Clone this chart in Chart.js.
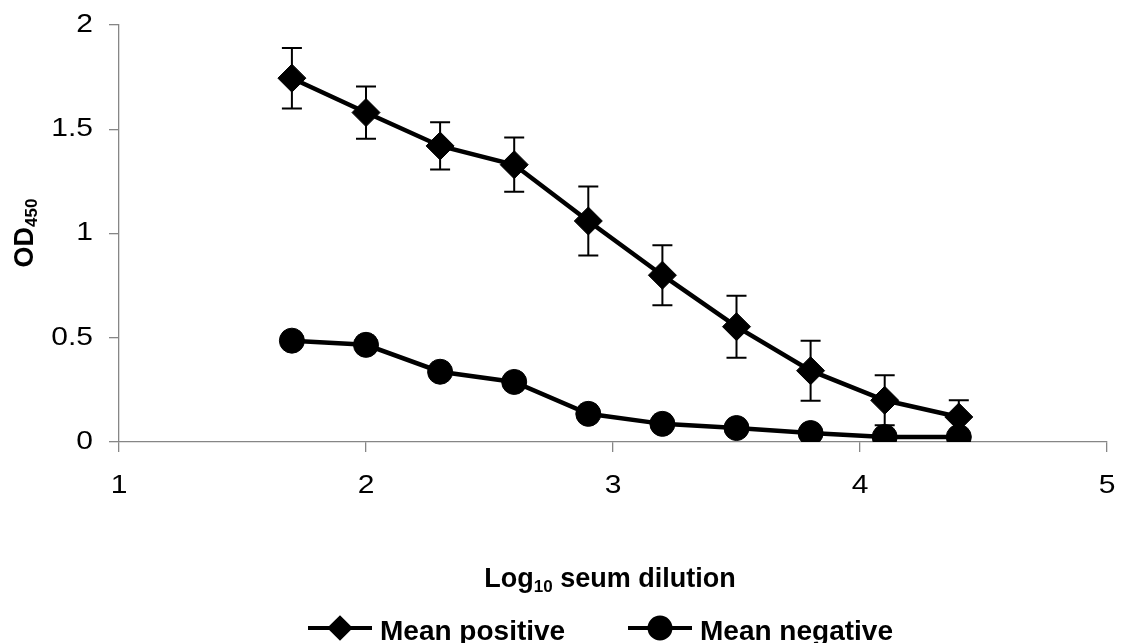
<!DOCTYPE html>
<html>
<head>
<meta charset="utf-8">
<title>OD450 vs serum dilution</title>
<script src="https://cdn.jsdelivr.net/npm/chart.js@4.4.1/dist/chart.umd.min.js"></script>
<style>
  html, body { margin: 0; padding: 0; background: #fff; }
  #wrap { width: 1122px; height: 643px; position: relative; }
</style>
</head>
<body>
<div id="wrap"><canvas id="odChart"></canvas></div>
<script>
// log10 serum dilution and mean OD450 (with SD) for both serum groups
const dilution = [1.7, 2.0, 2.3, 2.6, 2.9, 3.2, 3.5, 3.8, 4.1, 4.4];
const meanPositive = [1.745, 1.58, 1.42, 1.33, 1.06, 0.80, 0.553, 0.342, 0.20, 0.12];
const sdPositive = [0.145, 0.125, 0.113, 0.13, 0.166, 0.144, 0.149, 0.144, 0.12, 0.08];
const meanNegative = [0.486, 0.466, 0.337, 0.288, 0.135, 0.087, 0.067, 0.043, 0.024, 0.024];
const sdNegative = [0.02, 0.034, 0.02, 0.02, 0.015, 0.015, 0.015, 0.01, 0.01, 0.01];

const xTicks = [1, 2, 3, 4, 5];
const xTickLabels = ['1', '2', '3', '4', '5'];
const yTicks = [0, 0.5, 1, 1.5, 2];
const yTickLabels = ['0', '0.5', '1', '1.5', '2'];

const AXIS_GREY = '#868686';
const FONT = '"Liberation Sans", Arial, sans-serif';

const toPoints = (ys) => dilution.map((x, i) => ({ x: x, y: ys[i] }));

// text with an optional horizontal stretch
function wideText(ctx, text, x, y, sx, align) {
    ctx.save();
    ctx.translate(x, y);
    ctx.scale(sx, 1);
    ctx.textAlign = align;
    ctx.fillText(text, 0, 0);
    ctx.restore();
}

// main text + smaller lowered subscript, returns total width
function subText(ctx, parts, x, y, measureOnly) {
    let cx = x;
    parts.forEach(p => {
        ctx.font = p.font;
        if (!measureOnly) ctx.fillText(p.text, cx, y + (p.dy || 0));
        cx += ctx.measureText(p.text).width;
    });
    return cx - x;
}

const errorBars = {
    id: 'errorBars',
    beforeDatasetsDraw(chart) {
        const ctx = chart.ctx;
        const xs = chart.scales.x, ys = chart.scales.y;
        ctx.save();
        ctx.strokeStyle = '#000';
        ctx.lineWidth = 2;
        chart.data.datasets.forEach(ds => {
            ds.errors.forEach((e, i) => {
                const px = xs.getPixelForValue(ds.data[i].x);
                const top = ys.getPixelForValue(ds.data[i].y + e);
                const bot = ys.getPixelForValue(ds.data[i].y - e);
                ctx.beginPath();
                ctx.moveTo(px, top); ctx.lineTo(px, bot);
                ctx.moveTo(px - 10, top); ctx.lineTo(px + 10, top);
                ctx.moveTo(px - 10, bot); ctx.lineTo(px + 10, bot);
                ctx.stroke();
            });
        });
        ctx.restore();
    }
};

const labels = {
    id: 'labels',
    afterDraw(chart) {
        const ctx = chart.ctx;
        const xs = chart.scales.x, ys = chart.scales.y;
        ctx.save();
        ctx.fillStyle = '#000';

        // tick labels
        ctx.font = '25px ' + FONT;
        ctx.textBaseline = 'middle';
        yTicks.forEach((v, i) => wideText(ctx, yTickLabels[i], 93, ys.getPixelForValue(v), 1.2, 'right'));
        ctx.textBaseline = 'alphabetic';
        xTicks.forEach((v, i) => wideText(ctx, xTickLabels[i], xs.getPixelForValue(v), 493, 1.2, 'center'));

        // x axis title
        ctx.textAlign = 'left';
        const xTitle = [
            { text: 'Log', font: 'bold 27px ' + FONT },
            { text: '10', font: 'bold 17px ' + FONT, dy: 5 },
            { text: ' seum dilution', font: 'bold 27px ' + FONT }
        ];
        const tw = subText(ctx, xTitle, 0, 0, true);
        subText(ctx, xTitle, 610 - tw / 2, 587, false);

        // y axis title, rotated
        const yTitle = [
            { text: 'OD', font: 'bold 27px ' + FONT },
            { text: '450', font: 'bold 17px ' + FONT, dy: 4 }
        ];
        ctx.save();
        ctx.translate(33, 233);
        ctx.rotate(-Math.PI / 2);
        const yw = subText(ctx, yTitle, 0, 0, true);
        subText(ctx, yTitle, -yw / 2, 0, false);
        ctx.restore();

        // legend
        const items = [
            { x: 308, ds: chart.data.datasets[0], r: 10 },
            { x: 628, ds: chart.data.datasets[1], r: 10.5 }
        ];
        items.forEach(it => {
            ctx.strokeStyle = '#000';
            ctx.lineWidth = 4;
            ctx.beginPath();
            ctx.moveTo(it.x, 628); ctx.lineTo(it.x + 64, 628);
            ctx.stroke();
            ctx.fillStyle = '#000';
            Chart.helpers.drawPoint(ctx, {
                pointStyle: it.ds.pointStyle, radius: it.r, rotation: 0, borderWidth: 1
            }, it.x + 32, 628);
            ctx.fill();
            ctx.font = 'bold 28px ' + FONT;
            ctx.textAlign = 'left';
            ctx.fillText(it.ds.label, it.x + 72, 640);
        });
        ctx.restore();
    }
};

new Chart(document.getElementById('odChart'), {
    type: 'line',
    data: {
        datasets: [{
            label: 'Mean positive',
            data: toPoints(meanPositive),
            errors: sdPositive,
            borderColor: '#000',
            backgroundColor: '#000',
            borderWidth: 4.5,
            pointStyle: 'rectRot',
            pointRadius: 14,
            pointBorderWidth: 1,
            tension: 0
        }, {
            label: 'Mean negative',
            data: toPoints(meanNegative),
            errors: sdNegative,
            borderColor: '#000',
            backgroundColor: '#000',
            borderWidth: 4.5,
            pointStyle: 'circle',
            pointRadius: 12.5,
            pointBorderWidth: 1,
            tension: 0
        }]
    },
    options: {
        responsive: true,
        maintainAspectRatio: false,
        animation: false,
        layout: { padding: { top: 25, right: 12, left: 0, bottom: 0 } },
        plugins: { legend: { display: false }, tooltip: { enabled: false } },
        scales: {
            x: {
                type: 'linear',
                min: 1, max: 5,
                afterBuildTicks: s => { s.ticks = xTicks.map(v => ({ value: v })); },
                afterFit: s => { s.height = 643 - 442; },
                ticks: { display: false },
                grid: { display: true, drawOnChartArea: false, drawTicks: true, tickLength: 10, color: AXIS_GREY, lineWidth: 1.3 },
                border: { display: true, color: AXIS_GREY, width: 1.3 }
            },
            y: {
                min: 0, max: 2,
                afterBuildTicks: s => { s.ticks = yTicks.map(v => ({ value: v })); },
                afterFit: s => { s.width = 119; },
                ticks: { display: false },
                grid: { display: true, drawOnChartArea: false, drawTicks: true, tickLength: 10, color: AXIS_GREY, lineWidth: 1.3 },
                border: { display: true, color: AXIS_GREY, width: 1.3 }
            }
        }
    },
    plugins: [errorBars, labels]
});
</script>
</body>
</html>
